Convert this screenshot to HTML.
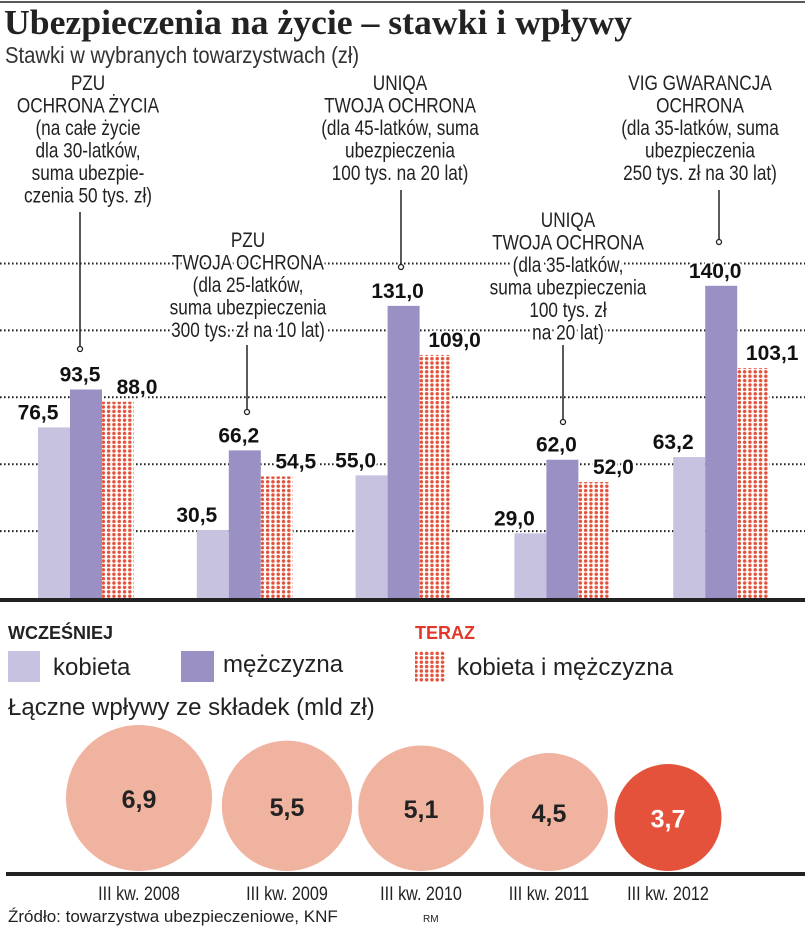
<!DOCTYPE html>
<html><head><meta charset="utf-8"><style>
html,body{margin:0;padding:0;background:#fff;}
svg{display:block;font-family:"Liberation Sans",sans-serif;}
.ann{font-size:21.5px;fill:#222;stroke:#fff;stroke-width:6px;paint-order:stroke;stroke-linejoin:round;}
.val{font-size:21px;font-weight:bold;fill:#111;stroke:#fff;stroke-width:4px;paint-order:stroke;}
</style></head><body>
<svg id="chart" width="805" height="929" viewBox="0 0 805 929" xmlns="http://www.w3.org/2000/svg">
<defs>
<pattern id="dots" width="5.3" height="4.4" patternUnits="userSpaceOnUse"><rect width="5.3" height="4.4" fill="#fff"/><circle cx="2.65" cy="2.2" r="1.75" fill="#e2523a"/></pattern>
</defs>
<line x1="0" y1="2" x2="805" y2="2" stroke="#222" stroke-width="1.5"/>
<text x="4" y="34" font-family="Liberation Serif,serif" font-weight="bold" font-size="35" fill="#222" textLength="628" lengthAdjust="spacingAndGlyphs">Ubezpieczenia na życie – stawki i wpływy</text>
<text x="5" y="63" font-size="23" fill="#333" transform="translate(5,0) scale(0.88,1) translate(-5,0)">Stawki w wybranych towarzystwach (zł)</text>
<g id="grid"></g>
<g id="bars"></g>
<g id="anns"></g>
<g id="vals"></g>
<rect x="0" y="598" width="805" height="4" fill="#222"/>

<g>
<text x="8" y="639" font-size="18" font-weight="bold" fill="#222">WCZEŚNIEJ</text>
<text x="415" y="639" font-size="18" font-weight="bold" fill="#e2382a">TERAZ</text>
<rect x="8" y="651" width="32" height="31" fill="#c6c2e0"/>
<text x="53" y="675" font-size="24" fill="#222">kobieta</text>
<rect x="181" y="651" width="33" height="31" fill="#9a90c4"/>
<text x="223" y="672" font-size="24" fill="#222">mężczyzna</text>
<rect x="415" y="651" width="31" height="31" fill="url(#dots)"/>
<text x="457" y="675" font-size="24" fill="#222">kobieta i mężczyzna</text>
</g>
<text x="8" y="715" font-size="24" fill="#222">Łączne wpływy ze składek (mld zł)</text>
<g id="bubbles"></g>
<rect x="6" y="872" width="799" height="4" fill="#222"/>
<text x="8" y="922" font-size="17" fill="#222">Źródło: towarzystwa ubezpieczeniowe, KNF</text>
<text x="423" y="922" font-size="10" fill="#222">RM</text>
</svg>
<script>
const groups = ["PZU Ochrona Życia","PZU Twoja Ochrona","UNIQA Twoja Ochrona 45","UNIQA Twoja Ochrona 35","VIG Gwarancja Ochrona"];
const kobieta = [76.5, 30.5, 55.0, 29.0, 63.2];
const mezczyzna = [93.5, 66.2, 131.0, 62.0, 140.0];
const teraz = [88.0, 54.5, 109.0, 52.0, 103.1];
const gridTicks = [30, 60, 90, 120, 150];
const years = ["III kw. 2008","III kw. 2009","III kw. 2010","III kw. 2011","III kw. 2012"];
const wplywy = [6.9, 5.5, 5.1, 4.5, 3.7];

const NS = "http://www.w3.org/2000/svg";
function mk(tag, attrs, parent){const e=document.createElementNS(NS,tag);for(const k in attrs)e.setAttribute(k,attrs[k]);parent.appendChild(e);return e;}
const y = v => 598 - v * 2.23;
const gx = i => 38 + i * 158.8;
const bw = 32;
const fmt = v => v.toFixed(1).replace('.', ',');

const grid = document.getElementById('grid');
gridTicks.forEach(t=>{
  const l = mk('line',{x1:0,x2:805,y1:y(t),y2:y(t),stroke:'#222','stroke-width':2,'stroke-dasharray':'1.6 2.4'},grid);
  
  
});

const bars = document.getElementById('bars'), vals = document.getElementById('vals');
const series = [[kobieta,'#c6c2e0',-16,'kobieta'],[mezczyzna,'#9a90c4',-6,'mezczyzna'],[teraz,'url(#dots)',19,'teraz']];
groups.forEach((g,i)=>{
  series.forEach((s,j)=>{
    const v = s[0][i], x = gx(i) + j*bw;
    const r = mk('rect',{x:x,y:y(v),width:bw,height:598-y(v),fill:s[1]},bars);
    
    
    const t = mk('text',{x:x+bw/2+s[2],y:y(v)-8,'text-anchor':'middle',class:'val'},vals);
    t.textContent = fmt(v);
    
    
  });
});

const anns = document.getElementById('anns');
const annData = [
  [88, 83, ["PZU","OCHRONA ŻYCIA","(na całe życie","dla 30-latków,","suma ubezpie-","czenia 50 tys. zł)"], 80, 212, 349],
  [400, 83, ["UNIQA","TWOJA OCHRONA","(dla 45-latków, suma","ubezpieczenia","100 tys. na 20 lat)"], 401, 190, 267],
  [700, 83, ["VIG GWARANCJA","OCHRONA","(dla 35-latków, suma","ubezpieczenia","250 tys. zł na 30 lat)"], 719, 190, 242],
  [248, 240, ["PZU","TWOJA OCHRONA","(dla 25-latków,","suma ubezpieczenia","300 tys. zł na 10 lat)"], 247, 345, 412],
  [568, 220, ["UNIQA","TWOJA OCHRONA","(dla 35-latków,","suma ubezpieczenia","100 tys. zł","na 20 lat)"], 563, 345, 422]
];
annData.forEach((a,i)=>{
  const ln = mk('line',{x1:a[3],x2:a[3],y1:a[4],y2:a[5]-3,stroke:'#222','stroke-width':1.5},anns);
  
  
  const c = mk('circle',{cx:a[3],cy:a[5],r:2.5,fill:'#fff',stroke:'#222','stroke-width':1.3},anns);
  
  
  a[2].forEach((s,k)=>{
    const t = mk('text',{x:0,y:0,'text-anchor':'middle',class:'ann',transform:`translate(${a[0]},${a[1]+7+k*22.5}) scale(0.8,1)`},anns);
    t.textContent = s;
    
    
  });
});

const bub = document.getElementById('bubbles');
const bcx = [139, 287, 421, 549, 668];
wplywy.forEach((v,i)=>{
  const r = 27.8*Math.sqrt(v);
  const cx = bcx[i], cy = 871 - r;
  const last = i === wplywy.length-1;
  const c = mk('circle',{cx:cx,cy:cy,r:r,fill: last?'#e4523b':'#f0b3a0'},bub);
  
  
  const t = mk('text',{x:cx,y:cy+10,'text-anchor':'middle','font-size':25,'font-weight':'bold',fill:last?'#fff':'#222'},bub);
  t.textContent = v.toFixed(1).replace('.',',');
  
  
  const yl = mk('text',{x:0,y:0,'text-anchor':'middle','font-size':19,fill:'#222',transform:`translate(${cx},900) scale(0.85,1)`},bub);
  yl.textContent = years[i];
  
  
});
</script>
</body></html>
